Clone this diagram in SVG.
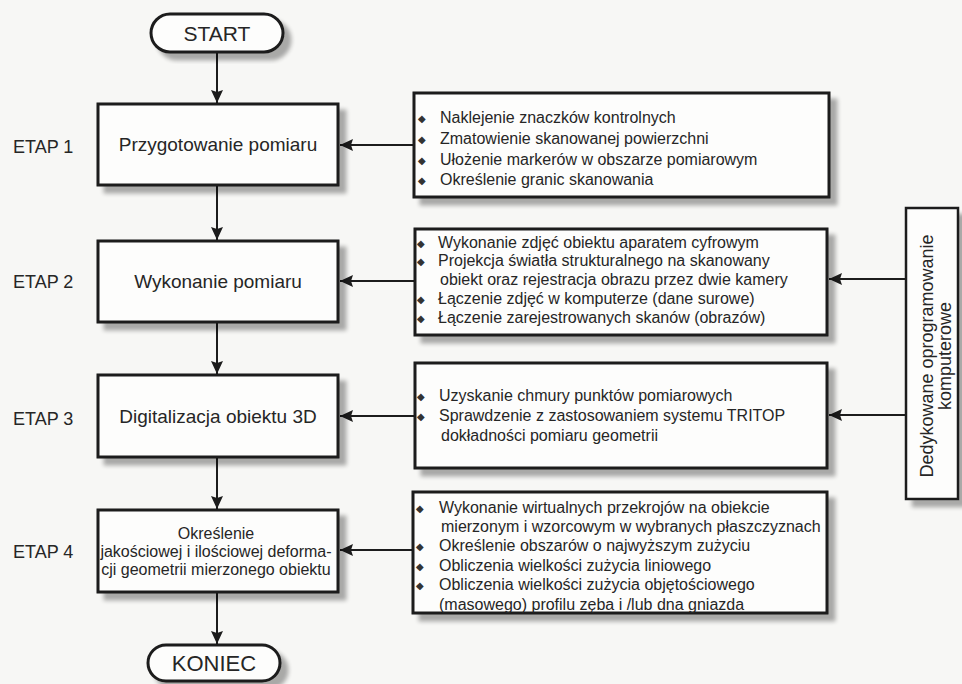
<svg xmlns="http://www.w3.org/2000/svg" width="962" height="684" viewBox="0 0 962 684">
<defs>
<style>
.bg{fill:#f7f7f5}
.box{fill:#fdfdfc;stroke:#1c1c1c;stroke-width:3;filter:url(#sh)}
.side{fill:#fdfdfc;stroke:#1c1c1c;stroke-width:2.5;filter:url(#sh)}
.con{stroke:#1c1c1c;stroke-width:2;fill:none;marker-end:url(#ah)}
text{font-family:"Liberation Sans",Arial,sans-serif;fill:#262626}
.main{font-size:19px;text-anchor:middle}
.term{font-size:21px;text-anchor:middle}
.etap{font-size:18px}
.li{font-size:16px}
.bu{font-size:10px;font-family:"DejaVu Sans",sans-serif;fill:#333}
.sm{font-size:16px;text-anchor:middle}
.rot{font-size:18px;text-anchor:middle}
</style>
<filter id="sh" x="-10%" y="-10%" width="130%" height="140%">
<feGaussianBlur in="SourceAlpha" stdDeviation="2"/>
<feOffset dx="7" dy="7" result="o"/>
<feComponentTransfer><feFuncA type="linear" slope="0.32"/></feComponentTransfer>
<feMerge><feMergeNode/><feMergeNode in="SourceGraphic"/></feMerge>
</filter>
<marker id="ah" markerUnits="userSpaceOnUse" markerWidth="13" markerHeight="12" refX="13" refY="6" orient="auto">
<path d="M0,0 L13,6 L0,12 L2,6 z" fill="#1c1c1c"/>
</marker>
</defs>
<rect class="bg" x="0" y="0" width="962" height="684"/>

<g id="connectors">
<line class="con" x1="217" y1="53" x2="217" y2="103"/>
<line class="con" x1="217" y1="186" x2="217" y2="240"/>
<line class="con" x1="217" y1="323" x2="217" y2="374"/>
<line class="con" x1="217" y1="458" x2="217" y2="509"/>
<line class="con" x1="217" y1="593" x2="217" y2="644"/>
<line class="con" x1="414" y1="145" x2="340" y2="145"/>
<line class="con" x1="415" y1="281" x2="340" y2="281"/>
<line class="con" x1="415" y1="416" x2="340" y2="416"/>
<line class="con" x1="413" y1="550" x2="340" y2="550"/>
<line class="con" x1="906" y1="279" x2="829" y2="279"/>
<line class="con" x1="906" y1="415" x2="829" y2="415"/>
</g>

<g id="start">
<rect class="box" x="151" y="14" width="132" height="38" rx="19"/>
<text class="term" x="217" y="40.5">START</text>
</g>

<g id="etap-labels">
<text class="etap" x="13" y="153">ETAP 1</text>
<text class="etap" x="13" y="288">ETAP 2</text>
<text class="etap" x="13" y="425">ETAP 3</text>
<text class="etap" x="13" y="558">ETAP 4</text>
</g>

<g id="step1">
<rect class="box" x="98" y="104" width="240" height="81"/>
<text class="main" x="218" y="151">Przygotowanie pomiaru</text>
</g>
<g id="step2">
<rect class="box" x="98" y="241" width="240" height="81"/>
<text class="main" x="218" y="288">Wykonanie pomiaru</text>
</g>
<g id="step3">
<rect class="box" x="98" y="375" width="240" height="82"/>
<text class="main" x="218" y="423">Digitalizacja obiektu 3D</text>
</g>
<g id="step4">
<rect class="box" x="98" y="510" width="240" height="82"/>
<text class="sm" x="216" y="539">Określenie</text>
<text class="sm" x="216" y="557">jakościowej i ilościowej deforma-</text>
<text class="sm" x="216" y="575">cji geometrii mierzonego obiektu</text>
</g>

<g id="koniec">
<rect class="box" x="148" y="645" width="132" height="36" rx="18"/>
<text class="term" x="214" y="671" style="font-size:22px">KONIEC</text>
</g>

<g id="details1">
<rect class="box" x="414" y="93" width="415" height="104"/>
<text class="bu" x="418" y="122">◆</text><text class="li" x="440" y="123">Naklejenie znaczków kontrolnych</text>
<text class="bu" x="418" y="143">◆</text><text class="li" x="440" y="144">Zmatowienie skanowanej powierzchni</text>
<text class="bu" x="418" y="164">◆</text><text class="li" x="440" y="165">Ułożenie markerów w obszarze pomiarowym</text>
<text class="bu" x="418" y="184">◆</text><text class="li" x="440" y="185">Określenie granic skanowania</text>
</g>

<g id="details2">
<rect class="box" x="415" y="229" width="412" height="106"/>
<text class="bu" x="417" y="247">◆</text><text class="li" x="438" y="248">Wykonanie zdjęć obiektu aparatem cyfrowym</text>
<text class="bu" x="417" y="265">◆</text><text class="li" x="438" y="266">Projekcja światła strukturalnego na skanowany</text>
<text class="li" x="440" y="285">obiekt oraz rejestracja obrazu przez dwie kamery</text>
<text class="bu" x="417" y="303">◆</text><text class="li" x="438" y="304">Łączenie zdjęć w komputerze (dane surowe)</text>
<text class="bu" x="417" y="322">◆</text><text class="li" x="438" y="323">Łączenie zarejestrowanych skanów (obrazów)</text>
</g>

<g id="details3">
<rect class="box" x="415" y="363" width="412" height="105"/>
<text class="bu" x="417" y="400">◆</text><text class="li" x="439" y="401">Uzyskanie chmury punktów pomiarowych</text>
<text class="bu" x="417" y="420">◆</text><text class="li" x="439" y="421">Sprawdzenie z zastosowaniem systemu TRITOP</text>
<text class="li" x="441" y="441">dokładności pomiaru geometrii</text>
</g>

<g id="details4">
<rect class="box" x="413" y="492" width="414" height="121"/>
<text class="bu" x="416" y="512">◆</text><text class="li" x="439" y="513">Wykonanie wirtualnych przekrojów na obiekcie</text>
<text class="li" x="441" y="532">mierzonym i wzorcowym w wybranych płaszczyznach</text>
<text class="bu" x="416" y="550">◆</text><text class="li" x="439" y="551">Określenie obszarów o najwyższym zużyciu</text>
<text class="bu" x="416" y="570">◆</text><text class="li" x="439" y="571">Obliczenia wielkości zużycia liniowego</text>
<text class="bu" x="416" y="589">◆</text><text class="li" x="439" y="590">Obliczenia wielkości zużycia objętościowego</text>
<text class="li" x="439" y="610">(masowego) profilu zęba i /lub dna gniazda</text>
</g>

<g id="software">
<rect class="side" x="906" y="208" width="52" height="291"/>
<text class="rot" transform="translate(932.5,356) rotate(-90)" x="0" y="0">Dedykowane oprogramowanie</text>
<text class="rot" transform="translate(950.5,356) rotate(-90)" x="0" y="0">komputerowe</text>
</g>
</svg>
